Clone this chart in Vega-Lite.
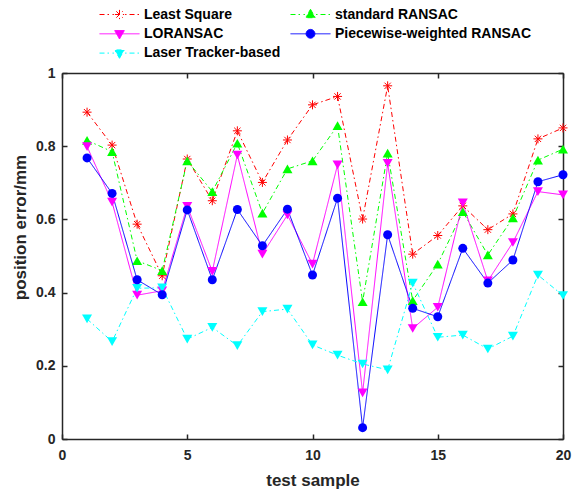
{
  "$schema": "https://vega.github.io/schema/vega-lite/v6.json",
  "autosize": "none",
  "width": 501,
  "height": 366,
  "padding": {"left": 62, "top": 73, "right": 19, "bottom": 50},
  "background": "white",
  "config": {
    "view": {"stroke": null},
    "font": "Liberation Sans",
    "axis": {
      "grid": false,
      "labelFlush": false,
      "labelFont": "Liberation Sans",
      "labelFontWeight": "bold",
      "labelFontSize": 14,
      "labelColor": "#262626",
      "titleFont": "Liberation Sans",
      "titleFontWeight": "bold",
      "titleFontSize": 17,
      "titleColor": "#262626",
      "domainColor": "#262626",
      "domainWidth": 1.5,
      "tickColor": "#262626",
      "tickWidth": 1.5,
      "tickSize": -5
    }
  },
  "datasets": {
    "errs": [
      {"sample":1,"method":"Least Square","error":0.893},{"sample":2,"method":"Least Square","error":0.803},{"sample":3,"method":"Least Square","error":0.587},{"sample":4,"method":"Least Square","error":0.446},{"sample":5,"method":"Least Square","error":0.765},{"sample":6,"method":"Least Square","error":0.651},{"sample":7,"method":"Least Square","error":0.842},{"sample":8,"method":"Least Square","error":0.701},{"sample":9,"method":"Least Square","error":0.817},{"sample":10,"method":"Least Square","error":0.913},{"sample":11,"method":"Least Square","error":0.936},{"sample":12,"method":"Least Square","error":0.601},{"sample":13,"method":"Least Square","error":0.965},{"sample":14,"method":"Least Square","error":0.505},{"sample":15,"method":"Least Square","error":0.556},{"sample":16,"method":"Least Square","error":0.637},{"sample":17,"method":"Least Square","error":0.572},{"sample":18,"method":"Least Square","error":0.615},{"sample":19,"method":"Least Square","error":0.82},{"sample":20,"method":"Least Square","error":0.85},
      {"sample":1,"method":"standard RANSAC","error":0.816},{"sample":2,"method":"standard RANSAC","error":0.785},{"sample":3,"method":"standard RANSAC","error":0.487},{"sample":4,"method":"standard RANSAC","error":0.46},{"sample":5,"method":"standard RANSAC","error":0.76},{"sample":6,"method":"standard RANSAC","error":0.676},{"sample":7,"method":"standard RANSAC","error":0.808},{"sample":8,"method":"standard RANSAC","error":0.617},{"sample":9,"method":"standard RANSAC","error":0.738},{"sample":10,"method":"standard RANSAC","error":0.76},{"sample":11,"method":"standard RANSAC","error":0.856},{"sample":12,"method":"standard RANSAC","error":0.375},{"sample":13,"method":"standard RANSAC","error":0.781},{"sample":14,"method":"standard RANSAC","error":0.378},{"sample":15,"method":"standard RANSAC","error":0.478},{"sample":16,"method":"standard RANSAC","error":0.621},{"sample":17,"method":"standard RANSAC","error":0.503},{"sample":18,"method":"standard RANSAC","error":0.604},{"sample":19,"method":"standard RANSAC","error":0.762},{"sample":20,"method":"standard RANSAC","error":0.792},
      {"sample":1,"method":"LORANSAC","error":0.799},{"sample":2,"method":"LORANSAC","error":0.647},{"sample":3,"method":"LORANSAC","error":0.393},{"sample":4,"method":"LORANSAC","error":0.405},{"sample":5,"method":"LORANSAC","error":0.636},{"sample":6,"method":"LORANSAC","error":0.458},{"sample":7,"method":"LORANSAC","error":0.776},{"sample":8,"method":"LORANSAC","error":0.505},{"sample":9,"method":"LORANSAC","error":0.612},{"sample":10,"method":"LORANSAC","error":0.478},{"sample":11,"method":"LORANSAC","error":0.749},{"sample":12,"method":"LORANSAC","error":0.126},{"sample":13,"method":"LORANSAC","error":0.753},{"sample":14,"method":"LORANSAC","error":0.302},{"sample":15,"method":"LORANSAC","error":0.36},{"sample":16,"method":"LORANSAC","error":0.645},{"sample":17,"method":"LORANSAC","error":0.432},{"sample":18,"method":"LORANSAC","error":0.537},{"sample":19,"method":"LORANSAC","error":0.676},{"sample":20,"method":"LORANSAC","error":0.667},
      {"sample":1,"method":"Piecewise-weighted RANSAC","error":0.768},{"sample":2,"method":"Piecewise-weighted RANSAC","error":0.671},{"sample":3,"method":"Piecewise-weighted RANSAC","error":0.435},{"sample":4,"method":"Piecewise-weighted RANSAC","error":0.394},{"sample":5,"method":"Piecewise-weighted RANSAC","error":0.626},{"sample":6,"method":"Piecewise-weighted RANSAC","error":0.435},{"sample":7,"method":"Piecewise-weighted RANSAC","error":0.627},{"sample":8,"method":"Piecewise-weighted RANSAC","error":0.528},{"sample":9,"method":"Piecewise-weighted RANSAC","error":0.628},{"sample":10,"method":"Piecewise-weighted RANSAC","error":0.448},{"sample":11,"method":"Piecewise-weighted RANSAC","error":0.658},{"sample":12,"method":"Piecewise-weighted RANSAC","error":0.031},{"sample":13,"method":"Piecewise-weighted RANSAC","error":0.558},{"sample":14,"method":"Piecewise-weighted RANSAC","error":0.357},{"sample":15,"method":"Piecewise-weighted RANSAC","error":0.334},{"sample":16,"method":"Piecewise-weighted RANSAC","error":0.521},{"sample":17,"method":"Piecewise-weighted RANSAC","error":0.426},{"sample":18,"method":"Piecewise-weighted RANSAC","error":0.489},{"sample":19,"method":"Piecewise-weighted RANSAC","error":0.703},{"sample":20,"method":"Piecewise-weighted RANSAC","error":0.722},
      {"sample":1,"method":"Laser Tracker-based","error":0.328},{"sample":2,"method":"Laser Tracker-based","error":0.266},{"sample":3,"method":"Laser Tracker-based","error":0.412},{"sample":4,"method":"Laser Tracker-based","error":0.413},{"sample":5,"method":"Laser Tracker-based","error":0.273},{"sample":6,"method":"Laser Tracker-based","error":0.305},{"sample":7,"method":"Laser Tracker-based","error":0.255},{"sample":8,"method":"Laser Tracker-based","error":0.348},{"sample":9,"method":"Laser Tracker-based","error":0.355},{"sample":10,"method":"Laser Tracker-based","error":0.257},{"sample":11,"method":"Laser Tracker-based","error":0.229},{"sample":12,"method":"Laser Tracker-based","error":0.205},{"sample":13,"method":"Laser Tracker-based","error":0.189},{"sample":14,"method":"Laser Tracker-based","error":0.426},{"sample":15,"method":"Laser Tracker-based","error":0.278},{"sample":16,"method":"Laser Tracker-based","error":0.284},{"sample":17,"method":"Laser Tracker-based","error":0.246},{"sample":18,"method":"Laser Tracker-based","error":0.281},{"sample":19,"method":"Laser Tracker-based","error":0.448},{"sample":20,"method":"Laser Tracker-based","error":0.392}
    ]
  },
  "data": {"name": "errs"},
  "resolve": {"axis": {"x": "independent", "y": "independent"}},
  "layer": [
    {
      "mark": {"type": "line", "strokeWidth": 1},
      "encoding": {
        "x": {"field": "sample", "type": "quantitative", "scale": {"domain": [0, 20], "nice": false},
              "axis": {"orient": "bottom", "values": [0, 5, 10, 15, 20], "title": "test sample", "labelPadding": 14, "titleY": 41, "titleBaseline": "middle"}},
        "y": {"field": "error", "type": "quantitative", "scale": {"domain": [0, 1], "nice": false},
              "axis": {"orient": "left", "values": [0, 0.2, 0.4, 0.6, 0.8, 1], "format": "~g", "title": "position error/mm", "labelPadding": 12, "titleX": -42, "titleY": 154, "titleBaseline": "middle", "titleAngle": -90}},
        "color": {"field": "method", "type": "nominal",
                  "scale": {"domain": ["Least Square", "standard RANSAC", "LORANSAC", "Piecewise-weighted RANSAC", "Laser Tracker-based"],
                            "range": ["#FF0000", "#00FF00", "#FF00FF", "#0000FF", "#00FFFF"]},
                  "legend": {
                    "orient": "none", "legendX": 37, "legendY": -66, "title": null, "columns": 2, "direction": "horizontal", "padding": 0,
                    "symbolSize": 1600, "clipHeight": 15, "rowPadding": 4.3, "columnPadding": 9, "labelOffset": 4,
                    "labelFont": "Liberation Sans", "labelFontWeight": "bold", "labelFontSize": 14, "labelColor": "#000000", "labelLimit": 400,
                    "encode": {"symbols": {"update": {
                      "shape": {"signal": "datum.value === 'Least Square' ? 'M-1,0H-0.5M-0.35,0H-0.28M0.28,0H0.35M0.5,0H1M-0.23,0H0.23M0,-0.23V0.23M-0.16,-0.16L0.16,0.16M-0.16,0.16L0.16,-0.16' : datum.value === 'standard RANSAC' ? 'M-1,0H-0.5M-0.35,0H-0.28M0.28,0H0.35M0.5,0H1M0,-0.26L0.24,0.16L-0.24,0.16Z' : datum.value === 'LORANSAC' ? 'M-1,0H1M0,0.26L0.24,-0.16L-0.24,-0.16Z' : datum.value === 'Piecewise-weighted RANSAC' ? 'M-1,0H1M-0.22,0A0.22,0.22,0,1,0,0.22,0A0.22,0.22,0,1,0,-0.22,0Z' : 'M-1,0H-0.5M-0.35,0H-0.28M0.28,0H0.35M0.5,0H1M0,0.26L0.24,-0.16L-0.24,-0.16Z'"},
                      "size": {"value": 1600},
                      "fill": {"scale": "color", "field": "value"},
                      "stroke": {"scale": "color", "field": "value"},
                      "strokeDash": {"value": []},
                      "strokeWidth": {"value": 1},
                      "opacity": {"value": 1}
                    }}}
                  }},
        "strokeDash": {"field": "method", "type": "nominal", "legend": null,
                       "scale": {"domain": ["Least Square", "standard RANSAC", "LORANSAC", "Piecewise-weighted RANSAC", "Laser Tracker-based"],
                                 "range": [[5, 3, 1.5, 3], [5, 3, 1.5, 3], [1, 0], [1, 0], [5, 3, 1.5, 3]]}}
      }
    },
    {
      "transform": [{"filter": "datum.method === 'Least Square'"}],
      "mark": {"type": "point", "filled": false, "shape": "M-1,0H1M0,-1V1M-0.7,-0.7L0.7,0.7M-0.7,0.7L0.7,-0.7", "size": 81, "strokeWidth": 1, "opacity": 1},
      "encoding": {
        "x": {"field": "sample", "type": "quantitative", "scale": {"domain": [0, 20], "nice": false},
              "axis": {"orient": "top", "values": [0, 5, 10, 15, 20], "labels": false, "title": null}},
        "y": {"field": "error", "type": "quantitative", "scale": {"domain": [0, 1], "nice": false},
              "axis": {"orient": "right", "values": [0, 0.2, 0.4, 0.6, 0.8, 1], "labels": false, "title": null}},
        "color": {"field": "method", "type": "nominal"}
      }
    },
    {
      "transform": [{"filter": "datum.method === 'standard RANSAC'"}],
      "mark": {"type": "point", "filled": true, "shape": "triangle-up", "size": 100, "opacity": 1},
      "encoding": {
        "x": {"field": "sample", "type": "quantitative", "axis": null},
        "y": {"field": "error", "type": "quantitative", "axis": null},
        "color": {"field": "method", "type": "nominal"}
      }
    },
    {
      "transform": [{"filter": "datum.method === 'LORANSAC' || datum.method === 'Laser Tracker-based'"}],
      "mark": {"type": "point", "filled": true, "shape": "triangle-down", "size": 100, "opacity": 1},
      "encoding": {
        "x": {"field": "sample", "type": "quantitative", "axis": null},
        "y": {"field": "error", "type": "quantitative", "axis": null},
        "color": {"field": "method", "type": "nominal"}
      }
    },
    {
      "transform": [{"filter": "datum.method === 'Piecewise-weighted RANSAC'"}],
      "mark": {"type": "point", "filled": true, "shape": "circle", "size": 81, "opacity": 1},
      "encoding": {
        "x": {"field": "sample", "type": "quantitative", "axis": null},
        "y": {"field": "error", "type": "quantitative", "axis": null},
        "color": {"field": "method", "type": "nominal"}
      }
    }
  ]
}
